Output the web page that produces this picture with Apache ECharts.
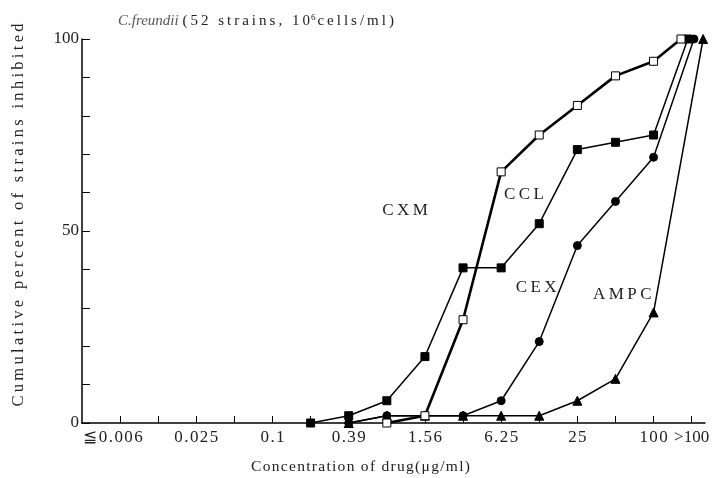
<!DOCTYPE html>
<html>
<head>
    <meta charset="utf-8">
    <title>C. freundii MIC</title>
    <script src="https://cdn.jsdelivr.net/npm/echarts@6/dist/echarts.min.js"></script>
</head>
<body style="margin:0;background:#fff">
    <div id="main" style="width:721px;height:478px;"></div>
    <script type="text/javascript">
        // dilution steps (index on x axis)
        var concentrations = ['≦0.006', '0.012', '0.025', '0.05', '0.1', '0.2', '0.39', '0.78',
                              '1.56', '3.13', '6.25', '12.5', '25', '50', '100', '>100'];
        var shownLabels = ['≦0.006', '0.025', '0.1', '0.39', '1.56', '6.25', '25', '100', '>100'];

        // cumulative % inhibited, first step index and values
        var cxmStart = 7;
        var cxm  = [0, 1.9, 26.9, 65.4, 75, 82.7, 90.4, 94.2, 100];
        var cclStart = 5;
        var ccl  = [0, 1.9, 5.8, 17.3, 40.4, 40.4, 51.9, 71.2, 73.1, 75, 100];
        var cexStart = 6;
        var cex  = [0, 1.9, 1.9, 1.9, 5.8, 21.2, 46.2, 57.7, 69.2, 100];
        var ampcStart = 6;
        var ampc = [0, 1.9, 1.9, 1.9, 1.9, 1.9, 5.8, 11.5, 28.8, 100];

        // points in the >100 column are drawn side by side
        var lastShift = {CXM: -0.28, CCL: -0.1, CEX: 0.06, AMPC: 0.3};

        function toPoints(name, start, vals) {
            return vals.map(function (v, i) {
                var x = start + i;
                if (x === concentrations.length - 1) x += lastShift[name];
                return [x, v];
            });
        }

        // the printed figure uses wide letter spacing
        var THIN = '\u2009', HAIR = '\u200A';
        function sp(s, gap) { return s.split('').join(gap || THIN); }

        var serif = '"Liberation Serif", "DejaVu Serif", serif';
        var ink = '#222';
        var chart = echarts.init(document.getElementById('main'));

        function lineSeries(name, start, vals, symbol, size, fill, width, label) {
            return {
                name: name, type: 'line', data: toPoints(name, start, vals),
                symbol: symbol, symbolSize: size, showSymbol: true,
                lineStyle: {color: '#000', width: width},
                itemStyle: {color: fill, borderColor: '#000', borderWidth: 1},
                z: fill === '#fff' ? 3 : 2,
                markPoint: {
                    symbol: 'rect', symbolSize: 0,
                    label: {show: true, formatter: sp(name), color: ink, fontFamily: serif, fontSize: 17, position: 'inside'},
                    data: [{coord: label}]
                }
            };
        }

        var option = {
            animation: false,
            title: {
                text: '{it|C.freundii} ' + sp('(52 strains, 10') + '{sup|6}' + sp('cells/ml)'),
                left: 113, top: 8,
                textStyle: {
                    fontFamily: serif, fontSize: 15, fontWeight: 'normal', color: ink,
                    rich: {
                        it: {fontFamily: serif, fontSize: 15, fontStyle: 'italic', color: '#555'},
                        sup: {fontFamily: serif, fontSize: 9, verticalAlign: 'top', padding: [0, 2, 7, 1], color: ink}
                    }
                }
            },
            grid: {left: 82, right: 16, top: 39, bottom: 55, containLabel: false, outerBoundsMode: 'none'},
            xAxis: {
                type: 'value', min: -1, max: 15.35,
                name: sp('Concentration of drug(μg/ml)', HAIR),
                nameLocation: 'middle', nameGap: 36,
                nameTextStyle: {fontFamily: serif, fontSize: 15.5, color: ink, padding: [0, 66, 0, 0]},
                splitLine: {show: false},
                axisLine: {onZero: false, lineStyle: {color: '#000', width: 1.5}},
                axisTick: {
                    inside: true, length: 7, lineStyle: {color: '#000'},
                    customValues: concentrations.map(function (c, i) { return i; })
                },
                axisLabel: {
                    customValues: shownLabels.map(function (l) { return concentrations.indexOf(l); }),
                    formatter: function (v) {
                        var s = concentrations[Math.round(v)];
                        if (s.charAt(0) === '≦') return '{lt|' + sp(s, HAIR) + '}';
                        if (s.charAt(0) === '>') return s;
                        return sp(s, HAIR);
                    },
                    rich: {lt: {fontFamily: serif, fontSize: 17, color: ink, padding: [0, 14, 0, 0]}},
                    hideOverlap: false,
                    fontFamily: serif, fontSize: 17, color: ink, margin: 6
                }
            },
            yAxis: {
                type: 'value', min: 0, max: 100, interval: 10,
                name: sp('Cumulative percent of strains inhibited'),
                nameLocation: 'middle', nameGap: 55,
                nameTextStyle: {fontFamily: serif, fontSize: 16.5, color: ink, padding: [0, 0, 0, 32]},
                splitLine: {show: false},
                axisLine: {show: true, onZero: false, lineStyle: {color: '#000', width: 1.5}},
                axisTick: {inside: true, length: 8, lineStyle: {color: '#000'}},
                axisLabel: {
                    formatter: function (v) { return v % 50 === 0 ? String(v) : ''; },
                    fontFamily: serif, fontSize: 17, color: ink, margin: 3
                }
            },
            series: [
                lineSeries('CCL', cclStart, ccl, 'rect', 8, '#000', 1.5, [10.6, 59.5]),
                lineSeries('CEX', cexStart, cex, 'circle', 8, '#000', 1.5, [10.92, 35.3]),
                lineSeries('AMPC', ampcStart, ampc, 'triangle', 9, '#000', 1.5, [13.18, 33.5]),
                lineSeries('CXM', cxmStart, cxm, 'rect', 8, '#fff', 2.6, [7.48, 55.4])
            ]
        };
        chart.setOption(option);
    </script>
</body>
</html>
